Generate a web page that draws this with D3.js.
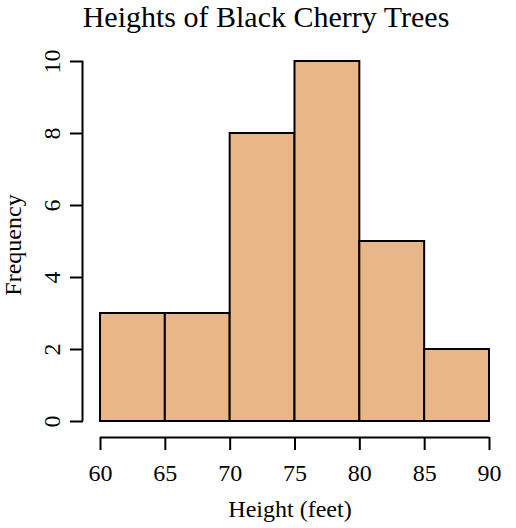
<!DOCTYPE html>
<html><head><meta charset="utf-8">
<script src="https://cdn.jsdelivr.net/npm/d3@7"></script>
<style>body{margin:0;background:#fff}svg{display:block}text{font-family:"Liberation Serif","Times New Roman",serif;fill:#000}</style>
</head><body>
<svg id="c" width="516" height="528"></svg>
<script>
const binStarts = [60, 65, 70, 75, 80, 85];
const binWidth = 5;
const counts = [3, 3, 8, 10, 5, 2];
const xTicks = [60, 65, 70, 75, 80, 85, 90];
const yTicks = [0, 2, 4, 6, 8, 10];
const title = "Heights of Black Cherry Trees";
const xLabel = "Height (feet)";
const yLabel = "Frequency";

const svg = d3.select("#c");
const x = d3.scaleLinear().domain([60, 90]).range([100, 489]);
const y = d3.scaleLinear().domain([0, 10]).range([421, 61]);

svg.selectAll("rect.bar").data(binStarts).join("rect")
  .attr("x", d => x(d)).attr("width", d => x(d + binWidth) - x(d))
  .attr("y", (d, i) => y(counts[i])).attr("height", (d, i) => y(0) - y(counts[i]))
  .attr("fill", "#e8b687").attr("stroke", "#000").attr("stroke-width", 2);

const xa = svg.append("g").attr("transform", "translate(0,437)")
  .call(d3.axisBottom(x).tickValues(xTicks).tickSize(13).tickFormat(d3.format("d")));
const ya = svg.append("g").attr("transform", "translate(83,0)")
  .call(d3.axisLeft(y).tickValues(yTicks).tickSize(13).tickFormat(d3.format("d")));
[xa, ya].forEach(a => {
  a.attr("font-size", null).attr("font-family", null);
  a.select(".domain").attr("stroke", "#000").attr("stroke-width", 2);
  a.selectAll(".tick line").attr("stroke", "#000").attr("stroke-width", 2);
  a.selectAll("text").style("font-family", '"Liberation Serif",serif').style("font-size", "24px").attr("fill", "#000");
});
xa.select(".domain").attr("d", `M${x(60)},0.5H${x(90)}`);
ya.select(".domain").attr("d", `M-0.5,${y(0)}V${y(10)}`);
xa.selectAll(".tick text").attr("y", null).attr("dy", null).attr("y", 44);
ya.selectAll(".tick text").attr("x", null).attr("dy", null)
  .attr("transform", "translate(-23,0) rotate(-90)").attr("text-anchor", "middle");

svg.append("text").attr("x", 266).attr("y", 27).attr("text-anchor", "middle")
  .style("font-size", "30px").text(title);
svg.append("text").attr("x", 290).attr("y", 517).attr("text-anchor", "middle")
  .style("font-size", "24px").text(xLabel);
svg.append("text").attr("transform", "translate(21,245) rotate(-90)").attr("text-anchor", "middle")
  .style("font-size", "24px").text(yLabel);
</script>
</body></html>
